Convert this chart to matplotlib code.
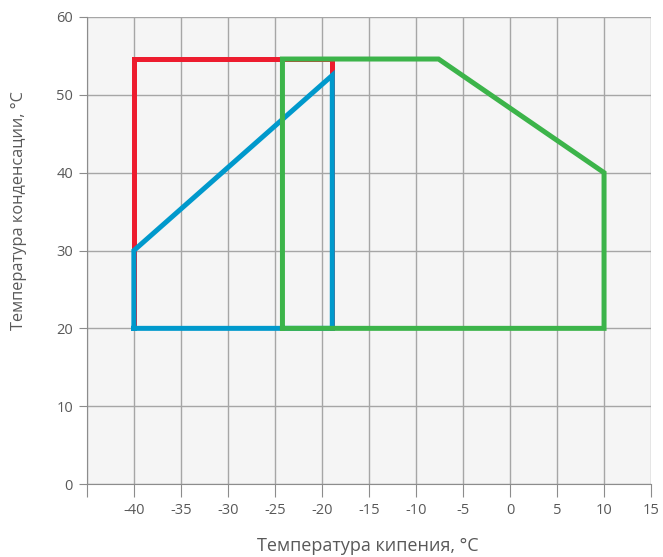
import numpy as np
import matplotlib; matplotlib.use('Agg'); import matplotlib.pyplot as plt

plt.rcParams.update({'font.family': 'Open Sans', 'font.size': 10})
TXT = '#595959'; GRID = '#a6a6a6'

# envelope outlines (evaporating temp, condensing temp)
red_x = [-40, -40, -18.9, -18.9]
red_y = [20, 54.6, 54.6, 20]
blue_x = [-40, -40, -18.9, -18.9, -40]
blue_y = [20, 30, 52.5, 20, 20]
green_x = [-24.2, -24.2, -7.6, 10, 10, -24.2]
green_y = [20, 54.6, 54.6, 40, 20, 20]

xticks = list(range(-40, 16, 5))
yticks = list(range(0, 61, 10))

fig = plt.figure(figsize=(6.63, 5.57), dpi=100)
ax = fig.add_axes([0.131, 0.131, 0.851, 0.8385])
ax.set_facecolor('#f5f5f5')
ax.set_xlim(-45, 15); ax.set_ylim(0, 60)
ax.set_xticks(range(-45, 16, 5)); ax.set_xticklabels([''] + [str(t) for t in xticks])
ax.set_yticks(yticks)
ax.grid(True, color=GRID, lw=1.0, zorder=0)
ax.set_axisbelow(True)
for s in ['top', 'right']:
    ax.spines[s].set_visible(False)
for s in ['left', 'bottom']:
    ax.spines[s].set_color('#8c8c8c')
ax.tick_params(axis='x', direction='out', length=9, color='#8c8c8c', labelcolor=TXT, labelsize=10.5, pad=5)
ax.tick_params(axis='y', direction='out', length=6, color='#8c8c8c', labelcolor=TXT, labelsize=10.5, pad=4)

lw = 3.6
ax.plot(red_x, red_y, color='#ed1c2e', lw=lw, solid_joinstyle='miter', zorder=3)
ax.plot(blue_x, blue_y, color='#0099cc', lw=lw, solid_joinstyle='miter', zorder=4)
ax.plot(green_x, green_y, color='#3cb44a', lw=lw, solid_joinstyle='miter', zorder=5)

ax.set_xlabel('Температура кипения, °C', color=TXT, fontsize=13, va='center')
ax.set_ylabel('Температура конденсации, °C', color=TXT, fontsize=11.8, va='center')
ax.xaxis.set_label_coords(0.498, -0.133)
ax.yaxis.set_label_coords(-0.1206, 0.5857)

fig.savefig('out.png', dpi=100)
